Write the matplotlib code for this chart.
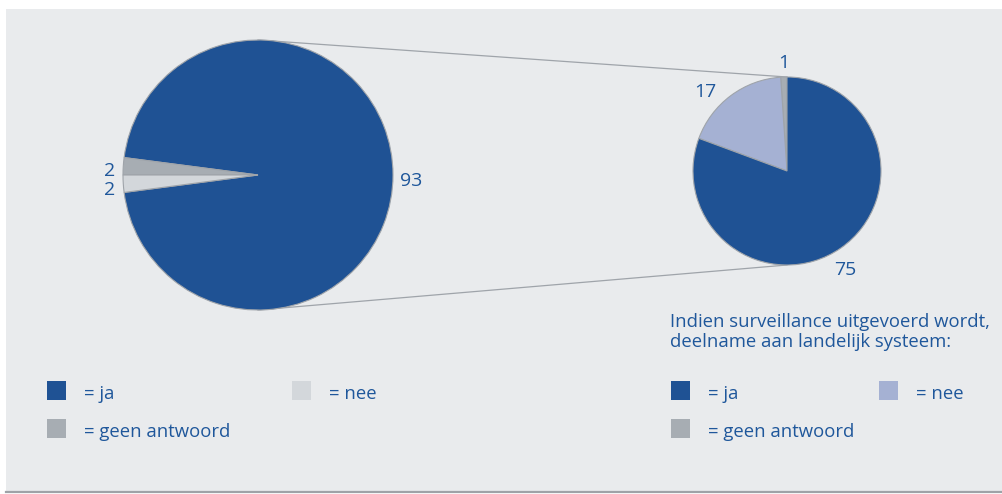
import matplotlib.pyplot as plt
from matplotlib.patches import Rectangle

plt.rcParams['font.family'] = ['Open Sans', 'DejaVu Sans']

# alle respondenten: ja / geen antwoord / nee
left_labels = ['ja', 'geen antwoord', 'nee']
left_values = [93, 2, 2]
# deelname aan landelijk systeem (bij surveillance): geen antwoord / nee / ja
right_labels = ['geen antwoord', 'nee', 'ja']
right_values = [1, 17, 75]

legend_title = 'Indien surveillance uitgevoerd wordt,\ndeelname aan landelijk systeem:'

BLUE = '#1f5294'
LIGHT_BLUE = '#a5b1d3'
GREY = '#a7adb3'
LIGHT_GREY = '#d3d7db'
TEXT = '#1f579b'
EDGE = '#9fa4aa'
BG = '#e9ebed'
FS = 13.3

W, H = 1003, 494


def Y(y):
    # pixel rows run downwards, data y runs upwards
    return H - y


fig = plt.figure(figsize=(W / 100, H / 100), dpi=100)
ax = fig.add_axes([0, 0, 1, 1])

ax.add_patch(Rectangle((6, Y(492)), W - 6, 483, facecolor=BG, edgecolor='none', zorder=0))
ax.plot([6, W], [Y(492), Y(492)], color='#9ea2a7', lw=1.6, zorder=1)

# left pie
c1, r1 = (258, Y(175)), 135
small = 360 * left_values[1] / sum(left_values)
wl, _ = ax.pie(left_values, colors=[BLUE, GREY, LIGHT_GREY], startangle=180 + small,
               center=c1, radius=r1, frame=True,
               wedgeprops=dict(edgecolor=EDGE, linewidth=0.8))

# right pie
c2, r2 = (787, Y(171)), 94
wr, _ = ax.pie(right_values, colors=[GREY, LIGHT_BLUE, BLUE], startangle=90,
               center=c2, radius=r2, frame=True,
               wedgeprops=dict(edgecolor=EDGE, linewidth=0.8))

# connector lines between the two pies
ax.plot([c1[0], c2[0]], [c1[1] + r1, c2[1] + r2], color=EDGE, lw=0.9, zorder=0.5)
ax.plot([c1[0], c2[0]], [c1[1] - r1, c2[1] - r2], color=EDGE, lw=0.9, zorder=0.5)

# value labels
left_pos = [(411, 181), (110, 171), (110, 190)]
for v, (x, y) in zip(left_values, left_pos):
    ax.text(x, Y(y), str(v), color=TEXT, fontsize=FS + 0.7, ha='center', va='center')
right_pos = [(784, 63), (705, 92), (845, 270)]
for v, (x, y) in zip(right_values, right_pos):
    ax.text(x, Y(y), str(v), color=TEXT, fontsize=FS + 0.7, ha='center', va='center')

# legends
def legend_item(x, y, color, label):
    ax.add_patch(Rectangle((x, Y(y + 19)), 19, 19, facecolor=color, edgecolor='none'))
    ax.text(x + 37, Y(y + 13), '= ' + label, color=TEXT, fontsize=FS, ha='left', va='center')


left_colors = dict(zip(left_labels, [BLUE, GREY, LIGHT_GREY]))
legend_item(47, 381, left_colors['ja'], 'ja')
legend_item(292, 381, left_colors['nee'], 'nee')
legend_item(47, 419, left_colors['geen antwoord'], 'geen antwoord')

right_colors = dict(zip(right_labels, [GREY, LIGHT_BLUE, BLUE]))
ax.text(670, Y(332), legend_title, color=TEXT, fontsize=FS, ha='left', va='center',
        linespacing=1.2)
legend_item(671, 381, right_colors['ja'], 'ja')
legend_item(879, 381, right_colors['nee'], 'nee')
legend_item(671, 419, right_colors['geen antwoord'], 'geen antwoord')

ax.set_xlim(0, W)
ax.set_ylim(0, H)
ax.set_aspect('equal')
ax.axis('off')

fig.savefig('out.png', dpi=100, facecolor='white')
